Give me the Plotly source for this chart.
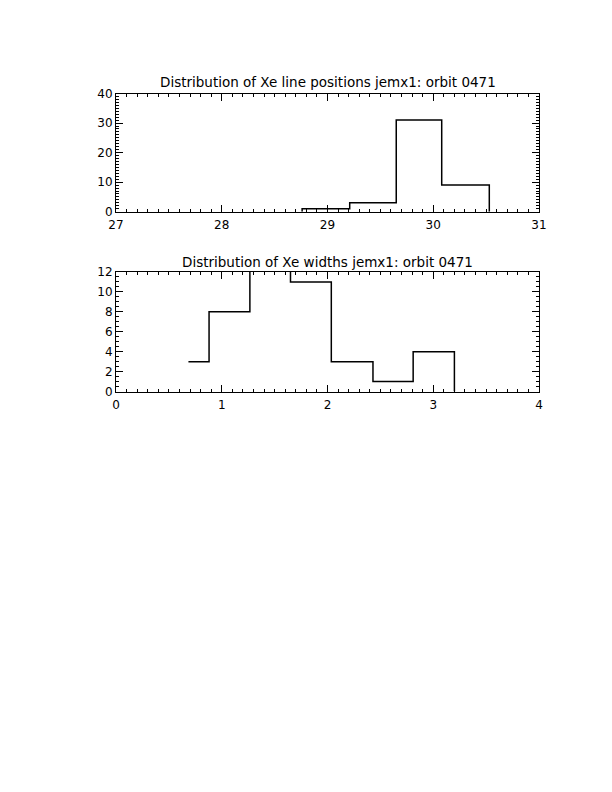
import plotly.graph_objects as go

# ---- data ----
pos_edges = [28.76, 29.21, 29.65, 30.08, 30.53]
pos_counts = [1, 3, 31, 9]
pos_title = "Distribution of Xe line positions jemx1: orbit 0471"
pos_xticks = [27, 28, 29, 30, 31]
pos_yticks = [0, 10, 20, 30, 40]

wid_edges = [0.685, 0.88, 1.266, 1.65, 2.036, 2.43, 2.81, 3.2]
wid_counts = [3, 8, 14, 11, 3, 1, 4]
wid_title = "Distribution of Xe widths jemx1: orbit 0471"
wid_xticks = [0, 1, 2, 3, 4]
wid_yticks = [0, 2, 4, 6, 8, 10, 12]


def step_path(edges, counts, rise_from_zero):
    xs, ys = [], []
    if rise_from_zero:
        xs.append(edges[0]); ys.append(0)
    for i, c in enumerate(counts):
        xs += [edges[i], edges[i + 1]]
        ys += [c, c]
    xs.append(edges[-1]); ys.append(0)
    return xs, ys


OFF = 8  # page body margin
W, H = 612 - 2 * OFF, 792 - 2 * OFF
FONT = "DejaVu Sans"


def px_x(p):
    return (p - OFF) / W


def px_y(p):
    return 1 - (p - OFF) / H


fig = go.Figure()
x1, y1 = step_path(pos_edges, pos_counts, True)
x2, y2 = step_path(wid_edges, wid_counts, False)
fig.add_trace(go.Scatter(x=x1, y=y1, mode="lines", line=dict(color="black", width=1.5),
                         xaxis="x", yaxis="y", showlegend=False, hoverinfo="skip"))
fig.add_trace(go.Scatter(x=x2, y=y2, mode="lines", line=dict(color="black", width=1.5),
                         xaxis="x2", yaxis="y2", showlegend=False, hoverinfo="skip"))

xd = [px_x(116), px_x(539)]
top_dom = [px_y(211.7), px_y(93.5)]
bot_dom = [px_y(391.5), px_y(272)]


def axis(dom, rng, ticks, minor_dt, anchor, standoff):
    return dict(domain=dom, range=rng, tickvals=ticks, ticktext=[str(t) for t in ticks],
                ticks="inside", ticklen=7, tickwidth=1, tickcolor="black",
                showline=True, linecolor="black", linewidth=1, mirror="ticks",
                showgrid=False, zeroline=False, anchor=anchor, automargin=False,
                ticklabelstandoff=standoff,
                tickfont=dict(family=FONT, size=12, color="black"),
                minor=dict(dtick=minor_dt, tick0=0, ticks="inside", ticklen=3,
                           tickcolor="black", tickwidth=1, showgrid=False))


fig.update_layout(
    width=W, height=H, autosize=False,
    margin=dict(l=0, r=0, t=0, b=0, pad=0, autoexpand=False),
    paper_bgcolor="white", plot_bgcolor="white",
    xaxis=axis(xd, [27, 31], pos_xticks, 0.1, "y", 2),
    yaxis=axis(top_dom, [0, 40], pos_yticks, 1, "x", 0),
    xaxis2=axis(xd, [0, 4], wid_xticks, 0.1, "y2", 2),
    yaxis2=axis(bot_dom, [0, 12], wid_yticks, 0.5, "x2", 0),
    annotations=[
        dict(text=pos_title, x=0.5 * (xd[0] + xd[1]), y=px_y(81.5), xref="paper", yref="paper",
             showarrow=False, font=dict(family=FONT, size=13.5, color="black"),
             xanchor="center", yanchor="middle"),
        dict(text=wid_title, x=0.5 * (xd[0] + xd[1]), y=px_y(262), xref="paper", yref="paper",
             showarrow=False, font=dict(family=FONT, size=13.5, color="black"),
             xanchor="center", yanchor="middle"),
    ],
)

fig.write_html("out.html")
